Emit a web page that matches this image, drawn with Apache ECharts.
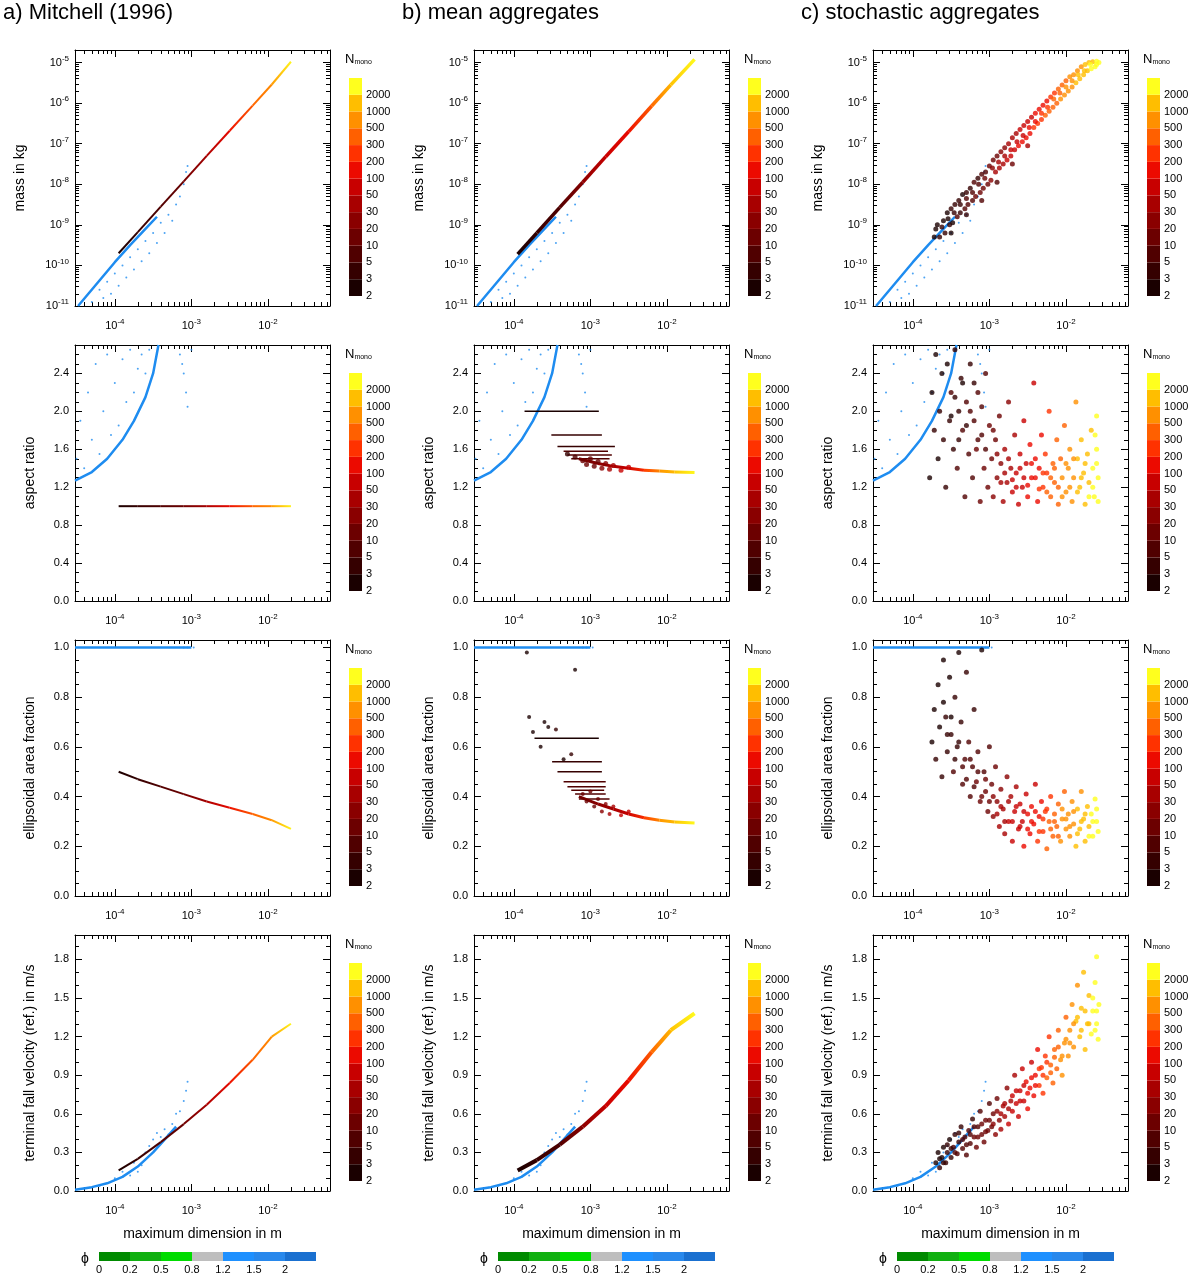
<!DOCTYPE html>
<html>
<head>
<meta charset="utf-8">
<script src="https://cdn.jsdelivr.net/npm/echarts@6/dist/echarts.min.js"></script>
<style>html,body{margin:0;padding:0;background:#fff}#chart{width:1200px;height:1282px}</style>
</head>
<body>
<div id="chart"></div>
<script>
// colour levels of N_mono
const LVL = [2, 3, 5, 10, 20, 30, 50, 100, 200, 300, 500, 1000, 2000];
const LVL_COL = ['#1a0000', '#350000', '#500000', '#6c0000', '#8a0000', '#a80000', '#c80000', '#ec0a00',
    '#ff3200', '#ff6000', '#ff9000', '#ffbe00', '#ffff1e'];
const PHI_LBL = ['0', '0.2', '0.5', '0.8', '1.2', '1.5', '2'];
const PHI_COL = ['#008a00', '#10b010', '#00dc00', '#bebebe', '#1e90ff', '#2888ec', '#1a70d0'];
const BLUE = '#1e8cf0';

// all x values are log10(maximum dimension / m); mass values are log10(m / kg)
// monomers (phi > 1)
const MONO_M_LINE = [[-4.48, -11], [-4.2, -10.37], [-4.0, -9.92], [-3.8, -9.5], [-3.6, -9.1], [-3.45, -8.8]];
const MONO_M_PTS = [[-4.3, -10.9], [-4.2, -10.6], [-4.15, -10.8], [-4.1, -10.4], [-4.05, -10.7], [-4.0, -10.2],
    [-3.95, -10.5], [-3.9, -10.0], [-3.85, -10.3], [-3.8, -9.8], [-3.75, -10.1], [-3.7, -9.6], [-3.65, -9.9],
    [-3.6, -9.4], [-3.55, -9.7], [-3.5, -9.2], [-3.45, -9.45], [-3.4, -8.95], [-3.35, -9.2], [-3.3, -8.75],
    [-3.25, -8.9], [-3.2, -8.5], [-3.15, -8.3], [-3.1, -8.0], [-3.07, -7.7], [-3.05, -7.55]];
const MONO_AR_LINE = [[-4.52, 1.27], [-4.3, 1.36], [-4.1, 1.5], [-3.9, 1.7], [-3.75, 1.9], [-3.6, 2.15], [-3.5, 2.4], [-3.43, 2.7]];
const MONO_AR_PTS = [[-4.5, 1.5], [-4.45, 1.9], [-4.4, 1.4], [-4.35, 2.2], [-4.3, 1.7], [-4.25, 2.5], [-4.2, 1.55],
    [-4.15, 2.0], [-4.1, 2.6], [-4.05, 1.75], [-4.0, 2.3], [-3.95, 1.85], [-3.9, 2.55], [-3.85, 2.1], [-3.8, 2.65],
    [-3.75, 2.2], [-3.7, 2.45], [-3.65, 2.6], [-3.6, 2.4], [-3.55, 2.65], [-3.15, 2.6], [-3.1, 2.4], [-3.07, 2.2],
    [-3.05, 2.05], [-3.12, 2.5], [-3.0, 2.65]];
const MONO_AF_LINE = [[-4.52, 1.0], [-3.0, 1.0]];
const MONO_AF_PTS = [[-3.1, 1.0], [-3.05, 1.0], [-2.97, 1.0]];
const MONO_V_LINE = [[-4.52, 0.01], [-4.3, 0.03], [-4.1, 0.06], [-3.9, 0.11], [-3.7, 0.19], [-3.5, 0.3], [-3.35, 0.4], [-3.2, 0.5]];
const MONO_V_PTS = [[-3.6, 0.3], [-3.55, 0.35], [-3.5, 0.4], [-3.45, 0.45], [-3.4, 0.42], [-3.35, 0.48], [-3.3, 0.44],
    [-3.25, 0.52], [-3.2, 0.6], [-3.15, 0.62], [-3.1, 0.7], [-3.07, 0.78], [-3.05, 0.85], [-3.8, 0.12], [-3.75, 0.22],
    [-4.0, 0.1], [-4.2, 0.04], [-3.65, 0.2], [-4.4, 0.02], [-3.9, 0.15], [-3.7, 0.15]];

// a) Mitchell (1996) aggregate curves
const MIT_X = [-3.95, -3.7, -3.4, -3.1, -2.8, -2.5, -2.2, -1.95, -1.7];
const MIT_N = [2, 3, 6, 15, 40, 100, 300, 800, 2500];
const MIT_M = [-9.7, -9.18, -8.55, -7.93, -7.3, -6.68, -6.06, -5.54, -4.98];
const MIT_AR = [1, 1, 1, 1, 1, 1, 1, 1, 1];
const MIT_AF = [0.5, 0.47, 0.44, 0.41, 0.38, 0.355, 0.33, 0.305, 0.27];
const MIT_V = [0.16, 0.25, 0.38, 0.52, 0.67, 0.84, 1.02, 1.2, 1.3];

// b) mean aggregates
const B_X = [-3.95, -3.7, -3.4, -3.1, -2.8, -2.5, -2.2, -1.95, -1.64];
const B_N = [2, 3, 8, 25, 60, 150, 400, 1000, 2500];
const B_M = [-9.72, -9.2, -8.57, -7.95, -7.32, -6.7, -6.07, -5.55, -4.92];
const B_V = [0.16, 0.24, 0.36, 0.5, 0.66, 0.86, 1.08, 1.25, 1.38];
const B_TAIL_X = [-3.15, -2.9, -2.7, -2.5, -2.3, -2.1, -1.9, -1.64];
const B_TAIL_N = [10, 20, 40, 80, 200, 500, 1200, 2500];
const B_TAIL_AR = [1.5, 1.45, 1.42, 1.4, 1.38, 1.37, 1.36, 1.355];
const B_TAIL_AF = [0.4, 0.37, 0.35, 0.33, 0.315, 0.305, 0.298, 0.294];
// [value, xStart, xEnd, N]
const B_AR_LEVELS = [[2.0, -3.86, -2.89, 2], [1.75, -3.51, -2.85, 3], [1.63, -3.43, -2.68, 4], [1.58, -3.35, -2.77, 5],
    [1.54, -3.3, -2.72, 6], [1.5, -3.25, -2.75, 7]];
const B_AF_LEVELS = [[0.635, -3.73, -2.89, 2], [0.54, -3.5, -2.85, 3], [0.5, -3.43, -2.85, 4], [0.46, -3.35, -2.8, 5],
    [0.44, -3.3, -2.8, 6], [0.425, -3.25, -2.82, 7], [0.41, -3.2, -2.8, 8], [0.39, -3.15, -2.75, 9]];
const B_AR_PTS = [[-3.1, 1.48, 10], [-3.05, 1.44, 12], [-3.0, 1.5, 14], [-2.95, 1.42, 16], [-2.9, 1.47, 18],
    [-2.85, 1.4, 22], [-2.8, 1.45, 25], [-2.75, 1.39, 30], [-2.7, 1.43, 35], [-2.6, 1.38, 50], [-2.5, 1.41, 70],
    [-3.2, 1.52, 8], [-3.3, 1.55, 4]];
const B_AF_PTS = [[-3.1, 0.41, 10], [-3.05, 0.38, 12], [-3.0, 0.42, 14], [-2.95, 0.36, 16], [-2.9, 0.39, 18],
    [-2.85, 0.34, 22], [-2.8, 0.37, 25], [-2.75, 0.33, 30], [-2.7, 0.36, 35], [-2.6, 0.325, 50], [-2.5, 0.34, 70],
    [-3.83, 0.98, 2], [-3.2, 0.91, 2], [-3.8, 0.72, 2], [-3.75, 0.66, 2], [-3.6, 0.7, 2], [-3.55, 0.68, 2],
    [-3.65, 0.6, 2], [-3.45, 0.67, 3], [-3.25, 0.57, 3], [-3.35, 0.55, 2]];

// c) stochastic aggregates [x, value, N]
const C_M_PTS = [[-3.72, -9.3, 2], [-3.68, -9.0, 2], [-3.65, -9.3, 3], [-3.6, -8.9, 2], [-3.58, -9.2, 3], [-3.55, -8.7, 2],
    [-3.52, -9.0, 3], [-3.5, -8.6, 4], [-3.48, -8.95, 2], [-3.45, -8.5, 3], [-3.42, -8.8, 5], [-3.4, -8.4, 3],
    [-3.38, -8.7, 4], [-3.35, -8.25, 2], [-3.32, -8.6, 6], [-3.3, -8.2, 4], [-3.28, -8.5, 8], [-3.25, -8.1, 3],
    [-3.22, -8.4, 7], [-3.2, -7.95, 5], [-3.18, -8.3, 10], [-3.15, -7.85, 4], [-3.12, -8.2, 12], [-3.1, -7.75, 6],
    [-3.08, -8.1, 15], [-3.05, -7.7, 8], [-3.02, -8.0, 18], [-3.0, -7.55, 10],
    [-2.98, -7.9, 25], [-2.95, -7.4, 12], [-2.92, -7.7, 30], [-2.9, -7.3, 15], [-2.87, -7.6, 40], [-2.85, -7.2, 20],
    [-2.82, -7.5, 45], [-2.8, -7.1, 25], [-2.77, -7.4, 60], [-2.75, -7.0, 30], [-2.72, -7.3, 70], [-2.7, -6.85, 35],
    [-2.67, -7.15, 80], [-2.65, -6.75, 40], [-2.62, -7.05, 100], [-2.6, -6.65, 50], [-2.57, -6.95, 120],
    [-2.55, -6.55, 60], [-2.52, -6.85, 140], [-2.5, -6.45, 70], [-2.47, -6.75, 160], [-2.45, -6.35, 90],
    [-2.42, -6.6, 200], [-2.4, -6.25, 110], [-2.37, -6.5, 230], [-2.35, -6.15, 130], [-2.32, -6.4, 260],
    [-2.3, -6.05, 150], [-2.27, -6.3, 300], [-2.25, -5.95, 180], [-2.22, -6.2, 350], [-2.2, -5.85, 220],
    [-2.17, -6.1, 400], [-2.15, -5.75, 260], [-2.12, -6.0, 450], [-2.1, -5.65, 300], [-2.07, -5.9, 550],
    [-2.05, -5.55, 350], [-2.02, -5.8, 650], [-2.0, -5.45, 420],
    [-1.97, -5.7, 800], [-1.95, -5.35, 500], [-1.92, -5.6, 900], [-1.9, -5.3, 600], [-1.87, -5.5, 1100],
    [-1.85, -5.2, 700], [-1.82, -5.4, 1300], [-1.8, -5.1, 900], [-1.77, -5.3, 1600], [-1.75, -5.05, 1100],
    [-1.72, -5.2, 1900], [-1.7, -5.0, 1400], [-1.67, -5.15, 2200], [-1.65, -4.98, 1800], [-1.62, -5.1, 2500],
    [-1.6, -4.97, 2100], [-1.57, -5.0, 2600],
    [-3.7, -9.1, 2], [-3.62, -9.05, 3], [-3.54, -8.85, 2], [-3.46, -8.7, 3], [-3.38, -8.5, 4], [-3.3, -8.35, 5],
    [-3.22, -8.2, 6], [-3.14, -8.0, 8], [-3.06, -7.85, 10], [-2.96, -7.6, 20], [-2.88, -7.45, 30], [-2.8, -7.3, 40],
    [-2.72, -7.15, 50], [-2.64, -6.95, 70], [-2.56, -6.8, 90], [-2.48, -6.6, 120], [-2.4, -6.45, 160],
    [-2.32, -6.25, 200], [-2.24, -6.1, 280], [-2.16, -5.9, 350], [-2.08, -5.75, 450], [-2.0, -5.6, 600],
    [-1.92, -5.45, 800], [-1.84, -5.3, 1100], [-1.76, -5.2, 1500], [-1.68, -5.05, 2000], [-1.6, -5.05, 2600],
    [-3.5, -9.2, 2], [-3.3, -8.75, 3], [-3.1, -8.4, 5], [-2.9, -7.95, 8], [-2.7, -7.5, 15], [-2.5, -7.05, 30]];
const C_AR_PTS = [[-3.78, 1.3, 2], [-3.75, 2.2, 2], [-3.72, 1.8, 3], [-3.7, 2.6, 2], [-3.67, 1.5, 2], [-3.65, 2.0, 3],
    [-3.62, 2.4, 2], [-3.6, 1.7, 4], [-3.57, 1.2, 3], [-3.55, 2.5, 2], [-3.52, 1.9, 3], [-3.5, 2.2, 5], [-3.47, 1.6, 4],
    [-3.45, 2.65, 3], [-3.42, 1.4, 6], [-3.4, 2.0, 4], [-3.37, 2.35, 3], [-3.35, 1.8, 5], [-3.32, 1.1, 6],
    [-3.3, 2.1, 7], [-3.27, 1.55, 8], [-3.25, 2.5, 4], [-3.22, 1.3, 9], [-3.2, 1.9, 6], [-3.17, 1.6, 10],
    [-3.15, 2.2, 5], [-3.12, 1.05, 12], [-3.1, 1.75, 8], [-3.07, 1.4, 14], [-3.05, 2.4, 6], [-3.02, 1.2, 16],
    [-3.0, 1.85, 10],
    [-2.97, 1.5, 18], [-2.95, 1.1, 22], [-2.92, 1.7, 15], [-2.9, 1.3, 25], [-2.87, 1.95, 12], [-2.85, 1.45, 28],
    [-2.82, 1.05, 35], [-2.8, 1.6, 30], [-2.77, 1.25, 40], [-2.75, 2.1, 20], [-2.72, 1.4, 45], [-2.7, 1.15, 55],
    [-2.67, 1.75, 40], [-2.65, 1.35, 60], [-2.62, 1.02, 70], [-2.6, 1.55, 65], [-2.57, 1.2, 80], [-2.55, 1.9, 50],
    [-2.52, 1.45, 90], [-2.5, 1.1, 110], [-2.47, 1.65, 100], [-2.45, 1.3, 130], [-2.42, 2.3, 60], [-2.4, 1.5, 140],
    [-2.37, 1.05, 170], [-2.35, 1.4, 180], [-2.32, 1.75, 150], [-2.3, 1.2, 220], [-2.27, 1.55, 240],
    [-2.25, 1.35, 270], [-2.22, 2.0, 200], [-2.2, 1.1, 300], [-2.17, 1.45, 330], [-2.15, 1.25, 380],
    [-2.12, 1.7, 350], [-2.1, 1.02, 450], [-2.07, 1.5, 480], [-2.05, 1.3, 520], [-2.02, 1.85, 420], [-2.0, 1.15, 600],
    [-1.97, 1.4, 700], [-1.95, 1.6, 650], [-1.92, 1.05, 850], [-1.9, 1.3, 900], [-1.87, 2.1, 600], [-1.85, 1.5, 1000],
    [-1.82, 1.2, 1200], [-1.8, 1.7, 1100], [-1.77, 1.35, 1400], [-1.75, 1.02, 1600], [-1.72, 1.55, 1700],
    [-1.7, 1.25, 1900], [-1.67, 1.8, 1800], [-1.65, 1.4, 2200], [-1.63, 1.1, 2400], [-1.6, 1.6, 2300],
    [-1.58, 1.3, 2600], [-1.6, 1.95, 2100],
    [-3.5, 1.95, 2], [-3.45, 2.15, 3], [-3.4, 1.7, 3], [-3.35, 2.3, 2], [-3.3, 1.85, 4], [-3.25, 2.0, 5],
    [-3.2, 2.3, 3], [-3.15, 1.7, 6], [-3.1, 2.05, 5], [-3.05, 1.6, 8], [-2.95, 1.8, 12], [-2.9, 1.55, 20],
    [-2.85, 1.25, 30], [-2.8, 1.35, 35], [-2.75, 1.5, 30], [-2.7, 1.28, 50], [-2.65, 1.2, 70], [-2.6, 1.4, 60],
    [-2.55, 1.3, 80], [-2.5, 1.22, 100], [-2.45, 1.45, 110], [-2.4, 1.3, 150], [-2.35, 1.18, 200], [-2.3, 1.35, 200],
    [-2.25, 1.15, 300], [-2.2, 1.3, 300], [-2.15, 1.4, 400], [-2.1, 1.2, 450], [-2.05, 1.1, 600], [-2.0, 1.45, 550],
    [-1.95, 1.2, 800], [-1.9, 1.5, 900], [-1.85, 1.15, 1200], [-1.8, 1.3, 1500], [-1.75, 1.45, 1600],
    [-1.7, 1.1, 2000], [-1.65, 1.2, 2300], [-1.6, 1.45, 2500], [-1.58, 1.05, 2600], [-1.62, 1.75, 2200]];
const C_AF_PTS = [[-3.75, 0.62, 2], [-3.72, 0.75, 2], [-3.7, 0.55, 3], [-3.67, 0.85, 2], [-3.65, 0.68, 2],
    [-3.62, 0.48, 3], [-3.6, 0.95, 2], [-3.57, 0.72, 3], [-3.55, 0.58, 4], [-3.52, 0.88, 2], [-3.5, 0.65, 3],
    [-3.47, 0.5, 5], [-3.45, 0.8, 3], [-3.42, 0.6, 4], [-3.4, 0.98, 2], [-3.37, 0.7, 4], [-3.35, 0.45, 7],
    [-3.32, 0.55, 6], [-3.3, 0.9, 3], [-3.27, 0.62, 5], [-3.25, 0.4, 9], [-3.22, 0.52, 8], [-3.2, 0.75, 4],
    [-3.17, 0.46, 10], [-3.15, 0.58, 7], [-3.12, 0.38, 12], [-3.1, 0.99, 2], [-3.07, 0.5, 9], [-3.05, 0.42, 13],
    [-3.02, 0.34, 15], [-3.0, 0.6, 6],
    [-2.97, 0.45, 15], [-2.95, 0.32, 22], [-2.92, 0.52, 12], [-2.9, 0.38, 25], [-2.87, 0.28, 35], [-2.85, 0.43, 28],
    [-2.82, 0.35, 40], [-2.8, 0.25, 45], [-2.77, 0.48, 25], [-2.75, 0.3, 50], [-2.72, 0.4, 45], [-2.7, 0.22, 70],
    [-2.67, 0.34, 60], [-2.65, 0.44, 40], [-2.62, 0.27, 80], [-2.6, 0.37, 70], [-2.57, 0.3, 90], [-2.55, 0.2, 120],
    [-2.52, 0.41, 70], [-2.5, 0.33, 110], [-2.47, 0.25, 140], [-2.45, 0.36, 120], [-2.42, 0.29, 170],
    [-2.4, 0.45, 90], [-2.37, 0.22, 200], [-2.35, 0.32, 190], [-2.32, 0.38, 160], [-2.3, 0.26, 240],
    [-2.27, 0.34, 260], [-2.25, 0.19, 300], [-2.22, 0.3, 300], [-2.2, 0.4, 220], [-2.17, 0.24, 380],
    [-2.15, 0.33, 360], [-2.12, 0.28, 430], [-2.1, 0.37, 380], [-2.07, 0.22, 500], [-2.05, 0.31, 500],
    [-2.02, 0.42, 400], [-2.0, 0.27, 600],
    [-1.97, 0.33, 700], [-1.95, 0.24, 800], [-1.92, 0.38, 700], [-1.9, 0.29, 950], [-1.87, 0.2, 1100],
    [-1.85, 0.35, 1000], [-1.82, 0.27, 1300], [-1.8, 0.42, 900], [-1.77, 0.31, 1500], [-1.75, 0.22, 1700],
    [-1.72, 0.36, 1600], [-1.7, 0.28, 1900], [-1.67, 0.33, 2100], [-1.65, 0.24, 2300], [-1.62, 0.39, 2000],
    [-1.6, 0.3, 2500], [-1.58, 0.26, 2600],
    [-3.6, 0.78, 2], [-3.55, 0.65, 3], [-3.5, 0.72, 2], [-3.45, 0.55, 4], [-3.4, 0.62, 4], [-3.35, 0.52, 5],
    [-3.3, 0.47, 7], [-3.25, 0.55, 6], [-3.2, 0.44, 9], [-3.15, 0.5, 8], [-3.1, 0.4, 12], [-3.05, 0.47, 10],
    [-3.0, 0.38, 15], [-2.95, 0.4, 20], [-2.9, 0.33, 30], [-2.85, 0.36, 30], [-2.8, 0.3, 45], [-2.75, 0.38, 40],
    [-2.7, 0.3, 60], [-2.65, 0.36, 60], [-2.6, 0.28, 90], [-2.55, 0.34, 90], [-2.5, 0.27, 130], [-2.45, 0.3, 150],
    [-2.4, 0.34, 160], [-2.35, 0.26, 220], [-2.3, 0.31, 250], [-2.25, 0.35, 250], [-2.2, 0.27, 350],
    [-2.15, 0.3, 400], [-2.1, 0.24, 480], [-2.05, 0.35, 500], [-2.0, 0.31, 650], [-1.95, 0.28, 850],
    [-1.9, 0.34, 950], [-1.85, 0.25, 1200], [-1.8, 0.3, 1400], [-1.75, 0.33, 1700], [-1.7, 0.24, 2000],
    [-1.65, 0.3, 2300], [-1.6, 0.35, 2500]];
const C_V_PTS = [[-3.7, 0.22, 2], [-3.67, 0.3, 2], [-3.65, 0.18, 3], [-3.62, 0.26, 2], [-3.6, 0.34, 2], [-3.57, 0.22, 3],
    [-3.55, 0.3, 4], [-3.52, 0.4, 2], [-3.5, 0.26, 3], [-3.47, 0.34, 5], [-3.45, 0.44, 3], [-3.42, 0.29, 6],
    [-3.4, 0.38, 4], [-3.37, 0.5, 3], [-3.35, 0.33, 7], [-3.32, 0.42, 6], [-3.3, 0.28, 9], [-3.27, 0.47, 5],
    [-3.25, 0.37, 8], [-3.22, 0.56, 4], [-3.2, 0.42, 10], [-3.17, 0.34, 12], [-3.15, 0.5, 8], [-3.12, 0.62, 5],
    [-3.1, 0.44, 12], [-3.07, 0.38, 15], [-3.05, 0.55, 10], [-3.02, 0.47, 16], [-3.0, 0.68, 8],
    [-2.97, 0.5, 18], [-2.95, 0.6, 15], [-2.92, 0.44, 25], [-2.9, 0.72, 12], [-2.87, 0.55, 28], [-2.85, 0.48, 35],
    [-2.82, 0.66, 30], [-2.8, 0.58, 40], [-2.77, 0.8, 25], [-2.75, 0.52, 50], [-2.72, 0.7, 45], [-2.7, 0.62, 55],
    [-2.67, 0.9, 35], [-2.65, 0.68, 65], [-2.62, 0.58, 80], [-2.6, 0.78, 70], [-2.57, 0.95, 50], [-2.55, 0.7, 90],
    [-2.52, 0.85, 100], [-2.5, 0.64, 120], [-2.47, 0.8, 140], [-2.45, 1.0, 90], [-2.42, 0.74, 170], [-2.4, 0.9, 170],
    [-2.37, 1.1, 120], [-2.35, 0.82, 200], [-2.32, 0.96, 220], [-2.3, 0.76, 260], [-2.27, 1.05, 250],
    [-2.25, 0.88, 300], [-2.22, 1.2, 200], [-2.2, 0.98, 340], [-2.17, 0.84, 400], [-2.15, 1.1, 380],
    [-2.12, 0.95, 450], [-2.1, 1.25, 350], [-2.07, 1.02, 520], [-2.05, 0.9, 580], [-2.02, 1.15, 550],
    [-2.0, 1.35, 450],
    [-1.97, 1.05, 700], [-1.95, 1.25, 750], [-1.92, 1.45, 650], [-1.9, 1.12, 950], [-1.87, 1.32, 1050],
    [-1.85, 1.6, 800], [-1.82, 1.2, 1300], [-1.8, 1.42, 1300], [-1.77, 1.7, 1100], [-1.75, 1.1, 1700],
    [-1.72, 1.3, 1700], [-1.7, 1.52, 1800], [-1.67, 1.22, 2100], [-1.65, 1.4, 2200], [-1.62, 1.62, 2000],
    [-1.6, 1.3, 2500], [-1.58, 1.18, 2600], [-1.6, 1.82, 2100], [-1.57, 1.45, 2600],
    [-3.65, 0.25, 2], [-3.6, 0.22, 3], [-3.55, 0.36, 3], [-3.5, 0.33, 4], [-3.45, 0.3, 5], [-3.4, 0.45, 4],
    [-3.35, 0.4, 6], [-3.3, 0.36, 8], [-3.25, 0.44, 8], [-3.2, 0.5, 9], [-3.15, 0.42, 12], [-3.1, 0.52, 12],
    [-3.05, 0.46, 15], [-3.0, 0.55, 15], [-2.95, 0.52, 20], [-2.9, 0.62, 25], [-2.85, 0.6, 30], [-2.8, 0.68, 35],
    [-2.75, 0.64, 45], [-2.7, 0.74, 50], [-2.65, 0.78, 60], [-2.6, 0.7, 80], [-2.55, 0.82, 90], [-2.5, 0.76, 120],
    [-2.45, 0.88, 130], [-2.4, 0.82, 180], [-2.35, 0.95, 200], [-2.3, 0.9, 250], [-2.25, 1.0, 280],
    [-2.2, 0.92, 350], [-2.15, 1.04, 400], [-2.1, 1.12, 420], [-2.05, 1.05, 550], [-2.0, 1.18, 600],
    [-1.95, 1.15, 800], [-1.9, 1.3, 900], [-1.85, 1.35, 1100], [-1.8, 1.25, 1400], [-1.75, 1.4, 1600],
    [-1.7, 1.3, 1900], [-1.65, 1.5, 2100], [-1.6, 1.4, 2500], [-1.62, 1.25, 2300]];

const TITLES = ['a) Mitchell (1996)', 'b) mean aggregates', 'c) stochastic aggregates'];
const YNAMES = ['mass in kg', 'aspect ratio', 'ellipsoidal area fraction', 'terminal fall velocity (ref.) in m/s'];

const FONT = '"Liberation Sans", Arial, sans-serif';
const XMIN = -4.52, XMAX = -1.19;
const COLS = [75, 474, 873], ROWS = [50, 345, 640, 935], W = 255, H = 256;

function colorN(n) {
    let k = 0;
    for (let i = 0; i < LVL.length; i++) if (n >= LVL[i]) k = i;
    return LVL_COL[k];
}
function range(a, b, s) {
    const out = [];
    for (let v = a; v <= b + 1e-9; v += s) out.push(Math.round(v * 1000) / 1000);
    return out;
}
function logMinor(lo, hi) {
    const out = [];
    for (let e = Math.floor(lo) - 1; e <= hi; e++)
        for (let k = 2; k <= 9; k++) {
            const v = e + Math.log10(k);
            if (v > lo && v < hi) out.push(v);
        }
    return out;
}
function powLabel(v) { return '{b|10}{s|' + v + '}'; }
const POW_RICH = { b: { fontSize: 11, fontFamily: FONT, color: '#000' }, s: { fontSize: 8, fontFamily: FONT, color: '#000', padding: [0, 0, 8, 0] } };

const X_SPEC = { min: XMIN, max: XMAX, major: [-4, -3, -2], minor: logMinor(XMIN, XMAX), log: true };
const Y_SPECS = [
    { min: -11, max: -4.69, major: range(-11, -5, 1), minor: logMinor(-11, -4.69), log: true, gap: 48 },
    { min: 0, max: 2.7, major: range(0, 2.4, 0.4), minor: range(0, 2.7, 0.1), gap: 38 },
    { min: 0, max: 1.03, major: range(0, 1, 0.2), minor: range(0, 1.03, 0.05), gap: 38 },
    { min: 0, max: 1.99, major: range(0, 1.8, 0.3), minor: range(0, 1.99, 0.1), gap: 38 }
];

const grids = [], xAxes = [], yAxes = [], series = [], graphics = [];
const plotAx = [];

function addAxes(list, dim, gi, spec, pos, labels, name, nameGap) {
    const first = list.length;
    const base = {
        gridIndex: gi, type: 'value', min: spec.min, max: spec.max, position: pos,
        splitLine: { show: false }, axisPointer: { show: false }
    };
    const lab = labels ? {
        show: true, customValues: spec.major, margin: dim === 'x' ? 12 : 6,
        fontFamily: FONT, fontSize: 11, color: '#000',
        formatter: spec.log ? powLabel : (v) => v.toFixed(1), rich: POW_RICH
    } : { show: false };
    const main = Object.assign({}, base, {
        axisLine: { show: true, onZero: false, lineStyle: { color: '#000', width: 1 } },
        axisTick: { show: true, inside: true, length: 7, customValues: spec.major, lineStyle: { color: '#000' } },
        axisLabel: lab
    });
    if (name) Object.assign(main, {
        name: name, nameLocation: 'middle', nameGap: nameGap,
        nameTextStyle: { fontFamily: FONT, fontSize: 14, color: '#000' }
    });
    list.push(main);
    list.push(Object.assign({}, base, {
        axisLine: { show: false, onZero: false },
        axisTick: { show: true, inside: true, length: 4, customValues: spec.minor, lineStyle: { color: '#000' } },
        axisLabel: { show: false }
    }));
    return first;
}

for (let r = 0; r < 4; r++) {
    for (let c = 0; c < 3; c++) {
        const gi = grids.length;
        grids.push({ left: COLS[c], top: ROWS[r], width: W, height: H, outerBoundsMode: 'none', containLabel: false });
        const xi = addAxes(xAxes, 'x', gi, X_SPEC, 'bottom', true, r === 3 ? 'maximum dimension in m' : null, 36);
        addAxes(xAxes, 'x', gi, X_SPEC, 'top', false);
        const yi = addAxes(yAxes, 'y', gi, Y_SPECS[r], 'left', true, YNAMES[r], Y_SPECS[r].gap);
        addAxes(yAxes, 'y', gi, Y_SPECS[r], 'right', false);
        plotAx.push({ x: xi, y: yi });
    }
}

function ax(r, c) { return plotAx[r * 3 + c]; }
function blueLine(r, c, data) {
    series.push({ type: 'line', xAxisIndex: ax(r, c).x, yAxisIndex: ax(r, c).y, data: data, symbol: 'none',
        lineStyle: { color: BLUE, width: 2.5 }, silent: true, z: 2 });
}
function blueScatter(r, c, data) {
    series.push({ type: 'scatter', xAxisIndex: ax(r, c).x, yAxisIndex: ax(r, c).y, data: data, symbolSize: 2,
        itemStyle: { color: BLUE }, silent: true, z: 2 });
}
function segs(r, c, xs, ys, ns, w) {
    for (let i = 0; i < xs.length - 1; i++) {
        series.push({ type: 'line', xAxisIndex: ax(r, c).x, yAxisIndex: ax(r, c).y,
            data: [[xs[i], ys[i]], [xs[i + 1], ys[i + 1]]], symbol: 'none', silent: true, z: 3,
            lineStyle: { width: w, color: new echarts.graphic.LinearGradient(0, 0, 1, 0,
                [{ offset: 0, color: colorN(ns[i]) }, { offset: 1, color: colorN(ns[i + 1]) }]) } });
    }
}
function levels(r, c, lv) {
    lv.forEach(l => series.push({ type: 'line', xAxisIndex: ax(r, c).x, yAxisIndex: ax(r, c).y,
        data: [[l[1], l[0]], [l[2], l[0]]], symbol: 'none', silent: true, z: 3,
        lineStyle: { width: 1.5, color: colorN(l[3]) } }));
}
function cloud(r, c, data, size) {
    series.push({ type: 'scatter', xAxisIndex: ax(r, c).x, yAxisIndex: ax(r, c).y, data: data, symbolSize: size,
        silent: true, z: 4, itemStyle: { color: (p) => colorN(p.data[2]) } });
}

// monomers in every column
const MONO = [[MONO_M_LINE, MONO_M_PTS], [MONO_AR_LINE, MONO_AR_PTS], [MONO_AF_LINE, MONO_AF_PTS], [MONO_V_LINE, MONO_V_PTS]];
for (let r = 0; r < 4; r++) for (let c = 0; c < 3; c++) {
    blueLine(r, c, MONO[r][0]);
    blueScatter(r, c, MONO[r][1]);
}
// a) Mitchell
segs(0, 0, MIT_X, MIT_M, MIT_N, 2);
segs(1, 0, MIT_X, MIT_AR, MIT_N, 2);
segs(2, 0, MIT_X, MIT_AF, MIT_N, 2);
segs(3, 0, MIT_X, MIT_V, MIT_N, 2);
// b) mean aggregates
segs(0, 1, B_X, B_M, B_N, 3.5);
levels(1, 1, B_AR_LEVELS);
cloud(1, 1, B_AR_PTS, 5);
segs(1, 1, B_TAIL_X, B_TAIL_AR, B_TAIL_N, 3);
levels(2, 1, B_AF_LEVELS);
cloud(2, 1, B_AF_PTS, 4);
segs(2, 1, B_TAIL_X, B_TAIL_AF, B_TAIL_N, 3);
segs(3, 1, B_X, B_V, B_N, 4);
// c) stochastic aggregates
cloud(0, 2, C_M_PTS, 5);
cloud(1, 2, C_AR_PTS, 5);
cloud(2, 2, C_AF_PTS, 5);
cloud(3, 2, C_V_PTS, 5);

// N_mono colour bars
for (let r = 0; r < 4; r++) for (let c = 0; c < 3; c++) {
    const gi = grids.length;
    grids.push({ left: COLS[c] + 274, top: ROWS[r] + 28, width: 13, height: 218, outerBoundsMode: 'none', containLabel: false });
    const xi = xAxes.length, yi = yAxes.length;
    xAxes.push({ gridIndex: gi, type: 'value', min: 0, max: 1, show: false });
    yAxes.push({ gridIndex: gi, type: 'value', min: 0, max: LVL.length, position: 'right',
        axisLine: { show: false }, axisTick: { show: false }, splitLine: { show: false },
        axisLabel: { customValues: range(0, LVL.length - 1, 1), formatter: (v) => LVL[v], margin: 4,
            fontFamily: FONT, fontSize: 11, color: '#000' } });
    series.push({ type: 'custom', xAxisIndex: xi, yAxisIndex: yi, silent: true,
        data: LVL.map((l, i) => [0, i]),
        renderItem: (p, api) => {
            const i = api.value(1), a = api.coord([0, i]), b = api.coord([1, i + 1]);
            return { type: 'rect', shape: { x: a[0], y: b[1], width: b[0] - a[0], height: a[1] - b[1] },
                style: { fill: LVL_COL[i] } };
        } });
    graphics.push({ type: 'text', left: COLS[c] + 270, top: ROWS[r] + 3,
        style: { text: '{n|N}{s|mono}', rich: { n: { fontSize: 13, fontFamily: FONT, fill: '#000' },
            s: { fontSize: 7, fontFamily: FONT, fill: '#000', padding: [6, 0, 0, 0] } } } });
}

// phi colour bars
for (let c = 0; c < 3; c++) {
    const gi = grids.length;
    grids.push({ left: COLS[c] + 24, top: 1252, width: 217, height: 9, outerBoundsMode: 'none', containLabel: false });
    const xi = xAxes.length, yi = yAxes.length;
    xAxes.push({ gridIndex: gi, type: 'value', min: 0, max: PHI_COL.length, position: 'bottom',
        axisLine: { show: false }, axisTick: { show: false }, splitLine: { show: false },
        axisLabel: { customValues: range(0, PHI_LBL.length - 1, 1), formatter: (v) => PHI_LBL[v], margin: 3,
            fontFamily: FONT, fontSize: 11, color: '#000' } });
    yAxes.push({ gridIndex: gi, type: 'value', min: 0, max: 1, show: false });
    series.push({ type: 'custom', xAxisIndex: xi, yAxisIndex: yi, silent: true,
        data: PHI_COL.map((p, i) => [i, 0]),
        renderItem: (p, api) => {
            const i = api.value(0), a = api.coord([i, 0]), b = api.coord([i + 1, 1]);
            return { type: 'rect', shape: { x: a[0], y: b[1], width: b[0] - a[0], height: a[1] - b[1] },
                style: { fill: PHI_COL[i] } };
        } });
    graphics.push({ type: 'text', left: COLS[c] + 6, top: 1252,
        style: { text: 'ϕ', fontSize: 14, fontFamily: FONT, fill: '#000' } });
    graphics.push({ type: 'text', left: COLS[c] - 72, top: 2,
        style: { text: TITLES[c], fontSize: 22, fontFamily: FONT, fill: '#000' } });
}

const chart = echarts.init(document.getElementById('chart'));
chart.setOption({
    animation: false,
    backgroundColor: '#fff',
    grid: grids,
    xAxis: xAxes,
    yAxis: yAxes,
    series: series,
    graphic: graphics
});
</script>
</body>
</html>
